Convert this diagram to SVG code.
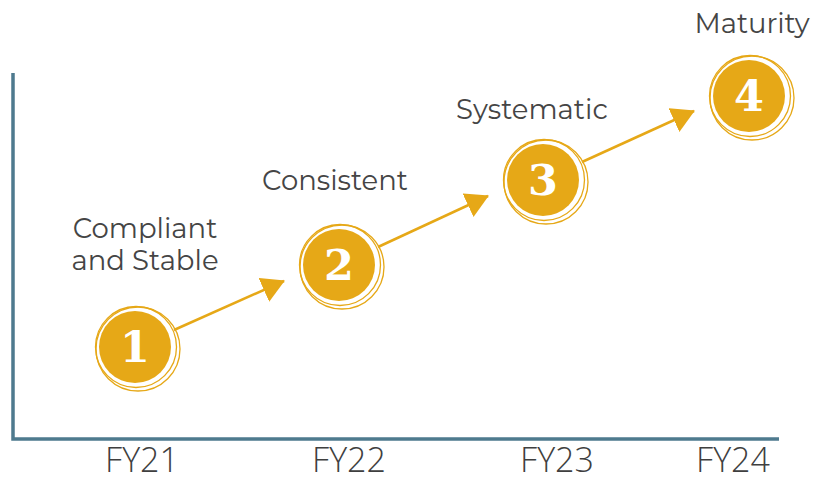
<svg xmlns="http://www.w3.org/2000/svg" width="813" height="481" viewBox="0 0 813 481">
<style>
.lbl{font-family:"Montserrat","Open Sans","Liberation Sans",sans-serif;font-size:27.5px;fill:#454545;text-anchor:middle}
.fy{font-family:"Open Sans","Liberation Sans",sans-serif;font-weight:300;font-size:34px;fill:#3f3f3f;text-anchor:middle}
.num{font-family:"DejaVu Serif",serif;font-weight:bold;font-size:43px;fill:#ffffff;text-anchor:middle}
.fill{fill:#e6a817}
.ring{fill:none;stroke:#e6a817;stroke-width:1.3}
.conn{stroke:#e6a817;stroke-width:2.5;fill:none}
.axis{stroke:#4e7a8e;stroke-width:3.5;fill:none}
</style>
<defs>
<marker id="ah" markerUnits="userSpaceOnUse" markerWidth="26" markerHeight="28" refX="22" refY="13" orient="auto">
<path d="M0,0 L23,13 L0,26 Z" fill="#e6a817"/>
</marker>
</defs>
<g id="axes">
<path class="axis" d="M13,73 V439 H779"/>
</g>
<g id="connectors">
<line class="conn" x1="174" y1="330" x2="284" y2="281" marker-end="url(#ah)"/>
<line class="conn" x1="378" y1="247" x2="488" y2="196" marker-end="url(#ah)"/>
<line class="conn" x1="582" y1="162" x2="694" y2="111" marker-end="url(#ah)"/>
</g>
<g id="node1">
<circle class="fill" cx="135" cy="347" r="36"/>
<circle class="ring" cx="136" cy="347" r="40.5"/>
<circle class="ring" cx="138" cy="349" r="42"/>
<text class="num" x="135" y="362">1</text>
<text class="lbl" x="145" y="238">Compliant</text>
<text class="lbl" x="145" y="270">and Stable</text>
</g>
<g id="node2">
<circle class="fill" cx="339" cy="265" r="36"/>
<circle class="ring" cx="340" cy="265" r="40.5"/>
<circle class="ring" cx="342" cy="267" r="42"/>
<text class="num" x="339" y="280">2</text>
<text class="lbl" x="335" y="190">Consistent</text>
</g>
<g id="node3">
<circle class="fill" cx="543" cy="180" r="36"/>
<circle class="ring" cx="544" cy="180" r="40.5"/>
<circle class="ring" cx="546" cy="182" r="42"/>
<text class="num" x="543" y="195">3</text>
<text class="lbl" x="532" y="119">Systematic</text>
</g>
<g id="node4">
<circle class="fill" cx="749" cy="96" r="36"/>
<circle class="ring" cx="750" cy="96" r="40.5"/>
<circle class="ring" cx="752" cy="98" r="42"/>
<text class="num" x="749" y="111">4</text>
<text class="lbl" x="752" y="33">Maturity</text>
</g>
<g id="xlabels">
<text class="fy" x="142" y="472">FY21</text>
<text class="fy" x="349" y="472">FY22</text>
<text class="fy" x="557" y="472">FY23</text>
<text class="fy" x="733" y="472">FY24</text>
</g>
</svg>
